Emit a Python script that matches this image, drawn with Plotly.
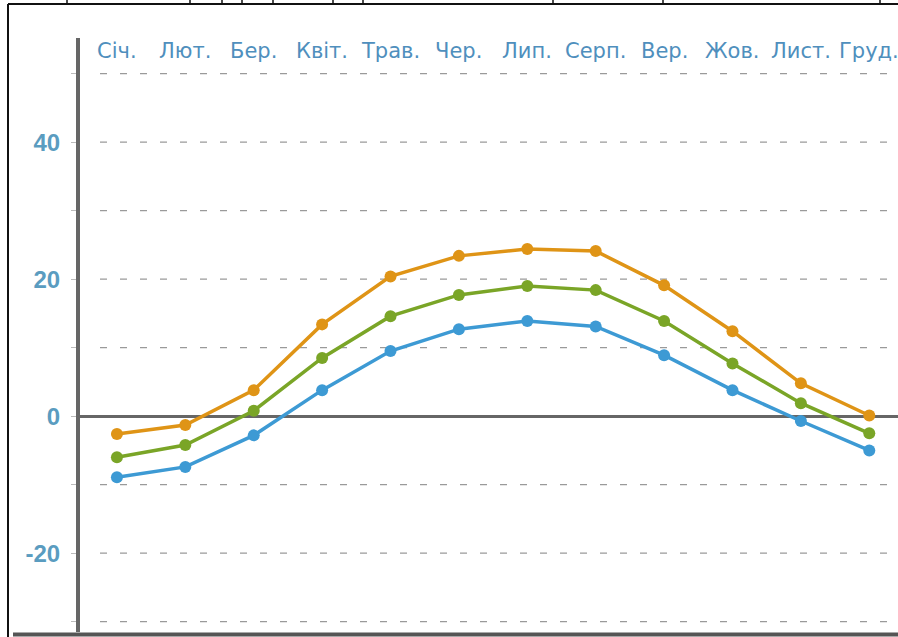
import plotly.graph_objects as go

months = ["Січ.", "Лют.", "Бер.", "Квіт.", "Трав.", "Чер.", "Лип.", "Серп.", "Вер.", "Жов.", "Лист.", "Груд."]
t_max = [-2.6, -1.3, 3.8, 13.4, 20.4, 23.4, 24.4, 24.1, 19.1, 12.4, 4.8, 0.1]
t_mean = [-6.0, -4.2, 0.8, 8.5, 14.6, 17.7, 19.0, 18.4, 13.9, 7.7, 1.9, -2.5]
t_min = [-8.9, -7.4, -2.8, 3.8, 9.5, 12.7, 13.9, 13.1, 8.9, 3.8, -0.7, -5.0]
y_ticks = [-30, -20, -10, 0, 10, 20, 30, 40, 50]
y_labels = ["", "-20", "", "0", "", "20", "", "40", ""]

x = list(range(len(months)))
fig = go.Figure()
for vals, col in [(t_min, "#3d9ad4"), (t_mean, "#7aa527"), (t_max, "#df9416")]:
    fig.add_trace(go.Scatter(x=x, y=vals, mode="lines+markers",
                             line=dict(color=col, width=3.5),
                             marker=dict(color=col, size=12),
                             showlegend=False, hoverinfo="skip"))

# dashed gridlines starting a little right of the axis
for v in y_ticks:
    if v == 0:
        continue
    fig.add_shape(type="line", xref="paper", yref="y", x0=20/818, x1=1, y0=v, y1=v,
                  line=dict(color="#9a9a9a", width=1.3, dash="7px,13px"), layer="below")

for i, m in enumerate(months):
    fig.add_annotation(x=i, y=53.3, xref="x", yref="y", text=m, showarrow=False,
                       font=dict(family="DejaVu Sans", size=21, color="#4f8fbd"))

# bottom heavy line and black frame
fig.add_shape(type="line", xref="paper", yref="paper", x0=-67/818, x1=1, y0=-0.004, y1=-0.004,
              line=dict(color="#555555", width=4))
fig.add_shape(type="line", xref="paper", yref="paper", x0=-72/818, x1=1.01, y0=628/594, y1=628/594,
              line=dict(color="#111111", width=2))
fig.add_shape(type="line", xref="paper", yref="paper", x0=-72/818, x1=-72/818, y0=-0.02, y1=628/594,
              line=dict(color="#111111", width=2))
for px in [67, 190, 222, 242, 273, 333, 363, 553, 663, 880]:
    xp = (px - 80) / 818
    fig.add_shape(type="line", xref="paper", yref="paper", x0=xp, x1=xp, y0=628/594, y1=640/594,
                  line=dict(color="#111111", width=1.5))

fig.update_layout(
    width=898, height=637,
    margin=dict(l=80, r=0, t=38, b=5),
    paper_bgcolor="white", plot_bgcolor="white",
    xaxis=dict(range=[-0.54, 11.42], showgrid=False, zeroline=False, showticklabels=False,
               showline=False, ticks=""),
    yaxis=dict(range=[-31.5, 55.2], tickvals=y_ticks, ticktext=y_labels,
               showgrid=False, zeroline=True, zerolinecolor="#666666", zerolinewidth=3,
               showline=True, linecolor="#666666", linewidth=4,
               ticks="outside", ticklen=5, tickcolor="#bbbbbb", ticklabelstandoff=6,
               tickfont=dict(family="Liberation Sans", size=24, color="#5a9cc0", weight="bold")),
)
fig.write_html("out.html", config={"displayModeBar": False},
               post_script="document.body.style.margin='0';document.body.style.overflow='hidden';")
